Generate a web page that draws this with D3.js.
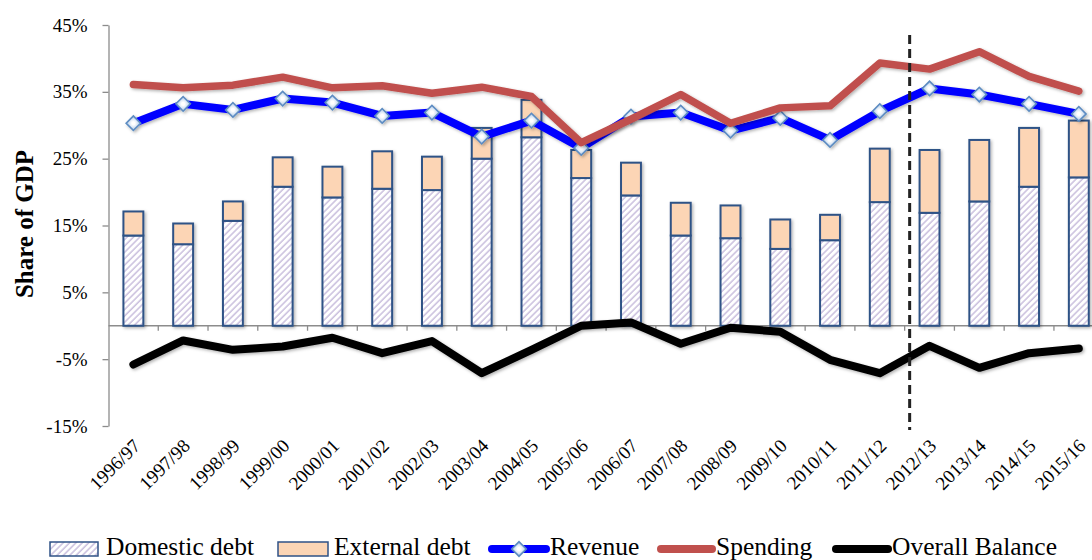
<!DOCTYPE html>
<html><head><meta charset="utf-8">
<script src="https://cdn.jsdelivr.net/npm/d3@7"></script>
<style>
body{margin:0;background:#fff}
svg{display:block}
svg text{font-family:"Liberation Serif","Times New Roman","DejaVu Serif",serif !important;fill:#000}
</style>
</head><body>
<svg id="chart" width="1092" height="560" font-family="Liberation Serif"></svg>
<script>
const categories = ["1996/97","1997/98","1998/99","1999/00","2000/01","2001/02","2002/03","2003/04","2004/05","2005/06","2006/07","2007/08","2008/09","2009/10","2010/11","2011/12","2012/13","2013/14","2014/15","2015/16"];
const domesticDebt = [13.5,12.2,15.7,20.8,19.2,20.5,20.3,25.0,28.2,22.1,19.5,13.5,13.1,11.5,12.8,18.5,16.9,18.6,20.8,22.2];
const externalDebt = [3.6,3.1,2.9,4.4,4.6,5.6,5.0,4.6,5.6,4.2,4.9,4.9,4.9,4.4,3.8,8.0,9.4,9.2,8.8,8.5];
const revenue = [30.3,33.2,32.3,34.0,33.4,31.4,31.9,28.3,30.7,26.6,31.3,31.9,29.2,31.1,27.8,32.1,35.5,34.6,33.2,31.7];
const spending = [36.1,35.6,36.0,37.2,35.6,35.9,34.8,35.7,34.3,27.4,30.9,34.6,30.3,32.6,32.9,39.3,38.4,41.0,37.3,35.1];
const overallBalance = [-5.8,-2.2,-3.6,-3.1,-1.8,-4.1,-2.3,-7.1,-3.6,0.0,0.5,-2.7,-0.3,-0.9,-5.1,-7.1,-3.0,-6.3,-4.1,-3.4];
const yTicks = [-15,-5,5,15,25,35,45];
const legendLabels = ["Domestic debt","External debt","Revenue","Spending","Overall Balance"];
const yTitle = "Share of GDP";
const projectionStart = "2012/13";

const FONT = "Liberation Serif";
const svg = d3.select("#chart");
const defs = svg.append("defs");
const pat = defs.append("pattern").attr("id","hatch").attr("patternUnits","userSpaceOnUse")
  .attr("width",4.5).attr("height",4.5).attr("patternTransform","rotate(45)");
pat.append("rect").attr("width",4.5).attr("height",4.5).attr("fill","#fff");
pat.append("line").attr("x1",1).attr("y1",0).attr("x2",1).attr("y2",4.5)
  .attr("stroke","#BCAED5").attr("stroke-width",1.2);
const f = defs.append("filter").attr("id","sh").attr("x","-30%").attr("y","-30%").attr("width","160%").attr("height","160%");
f.append("feDropShadow").attr("dx",1.5).attr("dy",1.5).attr("stdDeviation",1.6).attr("flood-color","#000").attr("flood-opacity",0.3);
const g = defs.append("radialGradient").attr("id","mk");
g.append("stop").attr("offset","30%").attr("stop-color","#ffffff");
g.append("stop").attr("offset","100%").attr("stop-color","#C9DBF0");

const x = d3.scaleBand().domain(categories).range([108.5,1103.7]).paddingInner(0.6).paddingOuter(0.3);
const y = d3.scaleLinear().domain([-15,45]).range([426,25]);
const cx = c => x(c) + x.bandwidth()/2;

// Y axis
const ya = svg.append("g").attr("transform","translate(108.5,0)")
  .call(d3.axisLeft(y).tickValues(yTicks).tickSize(6).tickSizeOuter(0).tickFormat(d=>d+"%"));
ya.attr("font-family",FONT);
ya.select(".domain").attr("stroke","#8c8c8c").attr("stroke-width",1.3);
ya.selectAll(".tick line").attr("stroke","#8c8c8c").attr("stroke-width",1.3);
ya.selectAll(".tick text").attr("x",-21).attr("font-size",19).attr("font-family",FONT).attr("fill","#000");

// X axis at zero
const xa = svg.append("g").attr("transform",`translate(0,${y(0)})`);
xa.append("line").attr("x1",x.range()[0]).attr("x2",x.range()[1]).attr("stroke","#8c8c8c").attr("stroke-width",1.3);
xa.selectAll("line.tk").data(categories.slice(1)).join("line").attr("class","tk")
  .attr("x1",c=>cx(c)-x.step()/2).attr("x2",c=>cx(c)-x.step()/2).attr("y1",0).attr("y2",5)
  .attr("stroke","#8c8c8c").attr("stroke-width",1.3);

// X labels
svg.append("g").selectAll("text").data(categories).join("text")
  .attr("transform",c=>`translate(${cx(c)+8},447) rotate(-45)`)
  .attr("text-anchor","end").attr("font-size",19).attr("font-family",FONT).text(c=>c);

// Y title
svg.append("text").attr("transform",`translate(33,224) rotate(-90)`).attr("text-anchor","middle")
  .attr("font-size",25).attr("font-weight","bold").attr("font-family",FONT).text(yTitle);

// Bars
const bars = svg.append("g").attr("filter","url(#sh)");
bars.selectAll("rect.dom").data(categories).join("rect").attr("class","dom")
  .attr("x",c=>x(c)).attr("width",x.bandwidth())
  .attr("y",(c,i)=>y(domesticDebt[i])).attr("height",(c,i)=>y(0)-y(domesticDebt[i]))
  .attr("fill","url(#hatch)").attr("stroke","#2F5286").attr("stroke-width",2);
bars.selectAll("rect.ext").data(categories).join("rect").attr("class","ext")
  .attr("x",c=>x(c)).attr("width",x.bandwidth())
  .attr("y",(c,i)=>y(domesticDebt[i]+externalDebt[i])).attr("height",(c,i)=>y(domesticDebt[i])-y(domesticDebt[i]+externalDebt[i]))
  .attr("fill","#FCD5B5").attr("stroke","#2F5286").attr("stroke-width",2);

const line = d3.line().x((d,i)=>cx(categories[i])).y(d=>y(d));
const marker = d3.symbol(d3.symbolSquare,105);

// Revenue
const rg = svg.append("g").attr("filter","url(#sh)");
rg.append("path").datum(revenue).attr("d",line).attr("fill","none").attr("stroke","#0000FF")
  .attr("stroke-width",8).attr("stroke-linejoin","round").attr("stroke-linecap","round");
rg.selectAll("path.mk").data(revenue).join("path").attr("class","mk")
  .attr("d",marker).attr("transform",(d,i)=>`translate(${cx(categories[i])},${y(d)}) rotate(45)`)
  .attr("fill","url(#mk)").attr("stroke","#5D8CC2").attr("stroke-width",1.6);

// Spending
svg.append("path").datum(spending).attr("d",line).attr("fill","none").attr("stroke","#C0504D")
  .attr("stroke-width",7.5).attr("stroke-linejoin","round").attr("stroke-linecap","round").attr("filter","url(#sh)");

// Balance
svg.append("path").datum(overallBalance).attr("d",line).attr("fill","none").attr("stroke","#000")
  .attr("stroke-width",8).attr("stroke-linejoin","round").attr("stroke-linecap","round").attr("filter","url(#sh)");

// Dashed projection line
const dx = x(projectionStart) - (x.step()-x.bandwidth())/2 + 5;
svg.append("line").attr("x1",dx).attr("x2",dx).attr("y1",35).attr("y2",430)
  .attr("stroke","#222").attr("stroke-width",3).attr("stroke-dasharray","9,5");

// Legend
const lg = svg.append("g").attr("font-family",FONT);
const ly = 549, lfs = 25.5, lty = 554.5;
lg.append("rect").attr("x",50).attr("y",542).attr("width",48).attr("height",14).attr("fill","url(#hatch)").attr("stroke","#2F5286").attr("stroke-width",1.5);
lg.append("text").attr("x",106).attr("y",lty).attr("font-size",lfs).text(legendLabels[0]);
lg.append("rect").attr("x",278).attr("y",542).attr("width",50).attr("height",14).attr("fill","#FCD5B5").attr("stroke","#2F5286").attr("stroke-width",1.5);
lg.append("text").attr("x",334).attr("y",lty).attr("font-size",lfs).text(legendLabels[1]);
lg.append("line").attr("x1",492).attr("x2",546).attr("y1",ly).attr("y2",ly).attr("stroke","#0000FF").attr("stroke-width",8).attr("stroke-linecap","round");
lg.append("path").attr("d",marker).attr("transform",`translate(519,${ly}) rotate(45)`).attr("fill","url(#mk)").attr("stroke","#5D8CC2").attr("stroke-width",1.6);
lg.append("text").attr("x",550).attr("y",lty).attr("font-size",lfs).text(legendLabels[2]);
lg.append("line").attr("x1",661).attr("x2",712).attr("y1",ly).attr("y2",ly).attr("stroke","#C0504D").attr("stroke-width",8).attr("stroke-linecap","round");
lg.append("text").attr("x",716).attr("y",lty).attr("font-size",lfs).text(legendLabels[3]);
lg.append("line").attr("x1",836).attr("x2",888).attr("y1",ly).attr("y2",ly).attr("stroke","#000").attr("stroke-width",8).attr("stroke-linecap","round");
lg.append("text").attr("x",892).attr("y",lty).attr("font-size",lfs).text(legendLabels[4]);
</script>
</body></html>
